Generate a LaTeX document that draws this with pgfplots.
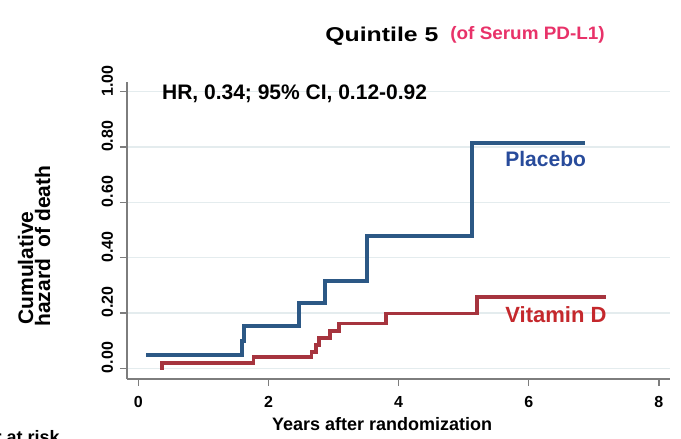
\documentclass[border=0pt]{standalone}
\usepackage{pgfplots}
\pgfplotsset{compat=1.18}
\usepackage{fontspec}
\setmainfont{Liberation Sans}
\definecolor{placebo}{RGB}{44,88,133}
\definecolor{vitd}{RGB}{166,52,62}
\definecolor{placebotxt}{RGB}{40,75,155}
\definecolor{vitdtxt}{RGB}{196,40,44}
\definecolor{pinktitle}{RGB}{232,50,105}
\definecolor{axgray}{RGB}{125,125,125}
\definecolor{gridc}{RGB}{228,236,238}
\newcommand{\yl}[1]{\hspace*{-6pt}#1}

\begin{document}
\begin{tikzpicture}
\useasboundingbox (0,0) rectangle (340.5pt,219.5pt);
\begin{axis}[
    at={(63.5pt,30pt)}, anchor=south west,
    scale only axis, width=271.5pt, height=148.65pt,
    xmin=-0.174, xmax=8.17, ymin=-0.039, ymax=1.036,
    axis x line*=bottom, axis y line*=left,
    axis line style={axgray, line width=0.6pt, -},
    xtick={0,2,4,6,8}, xticklabels={0,2,4,6,8},
    ytick={0,0.2,0.4,0.6,0.8,1},
    yticklabels={\yl{0.00},\yl{0.20},\yl{0.40},\yl{0.60},\yl{0.80},\yl{1.00}},
    tick align=outside, major tick length=3.5pt,
    tick style={axgray, line width=0.6pt},
    ymajorgrids, grid style={gridc, line width=0.6pt},
    tick label style={font=\fontsize{8}{9}\selectfont\bfseries, black},
    /pgf/number format/assume math mode=true,
    xticklabel style={yshift=-1.5pt},
    yticklabel style={rotate=90, anchor=south west},
    clip=false,
]
% Placebo
\addplot[const plot, placebo, line width=1.9pt] coordinates {
    (0.12,0.047) (1.59,0.099) (1.63,0.153) (2.47,0.235) (2.87,0.316)
    (3.52,0.479) (5.13,0.814) (6.86,0.814)
};
% Vitamin D
\addplot[const plot, vitd, line width=1.9pt] coordinates {
    (0.33,0.0) (0.36,0.019) (1.77,0.041) (2.66,0.060) (2.73,0.085)
    (2.78,0.109) (2.95,0.134) (3.08,0.162) (3.80,0.198) (5.21,0.258)
    (7.19,0.258)
};
\end{axis}
% titles and labels
\node[anchor=base west, inner sep=0] at (162.5pt,198.65pt)
    {\scalebox{1.24}[1]{\fontsize{10}{12}\selectfont\bfseries Quintile 5}};
\node[anchor=base west, inner sep=0, text=pinktitle] at (225pt,199.85pt)
    {\scalebox{1.05}[1]{\fontsize{9}{11}\selectfont\bfseries (of Serum PD-L1)}};
\node[anchor=base west, inner sep=0] at (80.85pt,169.85pt)
    {\fontsize{10.5}{12}\selectfont\bfseries HR, 0.34; 95\% CI, 0.12-0.92};
\node[anchor=base west, inner sep=0, text=placebotxt] at (252.5pt,136.15pt)
    {\fontsize{10.5}{12}\selectfont\bfseries Placebo};
\node[anchor=base west, inner sep=0, text=vitdtxt] at (252.5pt,58.15pt)
    {\fontsize{11}{13}\selectfont\bfseries Vitamin D};
\node[anchor=base west, inner sep=0] at (135.85pt,4.15pt)
    {\fontsize{9}{11}\selectfont\bfseries Years after randomization};
\node[anchor=base west, inner sep=0, rotate=90] at (16.5pt,57pt)
    {\fontsize{10.5}{12}\selectfont\bfseries Cumulative};
\node[anchor=base west, inner sep=0, rotate=90] at (25pt,56pt)
    {\fontsize{10.5}{12}\selectfont\bfseries hazard\ \ of death};
\node[anchor=north east, inner sep=0] at (30pt,4.5pt)
    {\fontsize{9}{11}\selectfont\bfseries Number at risk};
\end{tikzpicture}
\end{document}
